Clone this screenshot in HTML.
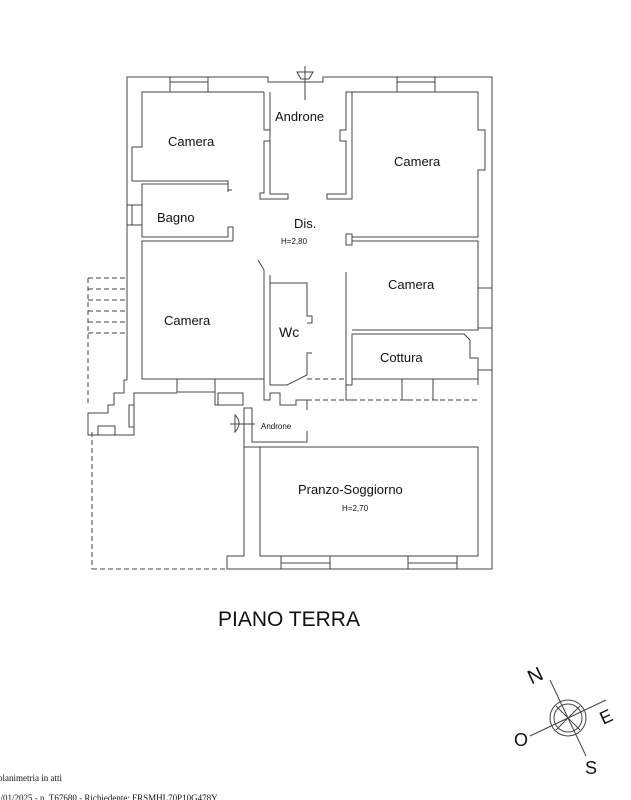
<!DOCTYPE html>
<html><head><meta charset="utf-8"><style>
html,body{margin:0;padding:0;background:#fff;width:631px;height:800px;overflow:hidden}
svg{display:block}
text{font-family:"Liberation Sans",sans-serif;fill:#111}
</style></head><body>
<svg width="631" height="800" viewBox="0 0 631 800" xmlns="http://www.w3.org/2000/svg">
<g fill="none" stroke="#444" stroke-width="1">
<polyline points="127,380 127,77 268,77 268,82 323,82 323,77 492,77 492,569 227,569 227,556 244,556 244,447 260,447"/>
<rect x="170" y="77" width="38" height="15"/><line x1="170" y1="82" x2="208" y2="82"/>
<rect x="397" y="77" width="38" height="15"/><line x1="397" y1="82" x2="435" y2="82"/>
<polyline points="264,92 142,92 142,147 132,147 132,181 228,181 228,190 232,190"/>
<polyline points="264,92 264,130 270,130 270,141 264,141 264,193 260,193 260,199 288,199 288,194 270,194 270,92"/>
<polyline points="352,92 346,92 346,130 340,130 340,141 346,141 346,194 327,194 327,199 352,199 352,92"/>
<polyline points="352,92 478,92 478,130 485,130 485,170 478,170 478,237 352,237"/>
<rect x="346" y="234" width="6" height="11"/>
<polyline points="228,192 228,184 142,184 142,237 228,237 228,227 233,227 233,241"/>
<line x1="127" y1="205" x2="142" y2="205"/><line x1="127" y1="225" x2="142" y2="225"/><line x1="132" y1="205" x2="132" y2="225"/>
<polyline points="233,241 142,241 142,379 264,379 264,270 258,260"/>
<rect x="177" y="379" width="38" height="13"/>
<polyline points="270,275 270,385 287,385 307,375 307,353 312,353"/>
<polyline points="270,283 307,283 307,316 312,316 312,323 307,323"/>
<polyline points="346,272 346,385 352,385 352,334 464,334 470,340 470,358 478,358 478,385"/>
<polyline points="352,241 478,241 478,330 352,330"/>
<line x1="478" y1="288" x2="492" y2="288"/><line x1="478" y1="328" x2="492" y2="328"/>
<polyline points="352,379 478,379"/>
<line x1="478" y1="370" x2="492" y2="370"/>
<g stroke-dasharray="5,3">
<line x1="307" y1="379" x2="346" y2="379"/><line x1="307" y1="400" x2="346" y2="400"/>
<line x1="352" y1="400" x2="478" y2="400"/>
<line x1="92" y1="432" x2="92" y2="569"/><line x1="92" y1="569" x2="227" y2="569"/>
<line x1="88" y1="278" x2="88" y2="405"/>
<line x1="88" y1="278" x2="127" y2="278"/><line x1="88" y1="289" x2="127" y2="289"/>
<line x1="88" y1="300" x2="127" y2="300"/><line x1="88" y1="311" x2="127" y2="311"/>
<line x1="88" y1="322" x2="127" y2="322"/><line x1="88" y1="333" x2="127" y2="333"/>
</g>
<polyline points="127,380 124,380 124,393 114,393 114,405 108,405 108,413 88,413 88,435 134,435 134,393 177,393"/>
<rect x="98" y="426" width="17" height="9"/>
<rect x="129" y="405" width="5" height="22"/>
<polyline points="215,379 215,405 243,405 243,395"/>
<rect x="218" y="393" width="25" height="12"/>
<polyline points="264,379 264,400 270,400 270,393 280,393 280,405 296,405 296,400 307,400 307,410"/>
<polyline points="346,379 346,400 352,400"/>
<polyline points="402,379 402,400 408,400"/>
<polyline points="433,379 433,400 438,400"/>
<polyline points="244,447 244,408 252,408 252,442 307,442 307,431"/>
<polyline points="260,447 307,447"/>
<path d="M235,415 L235,432 Q243,423 235,415 Z"/><line x1="230" y1="424" x2="255" y2="424"/>
<rect x="260" y="447" width="218" height="109"/>
<rect x="281" y="556" width="49" height="13"/><line x1="281" y1="563" x2="330" y2="563"/>
<rect x="408" y="556" width="49" height="13"/><line x1="408" y1="563" x2="457" y2="563"/>
<path d="M297,72 L313,72 L309,79 L301,79 Z"/><line x1="305" y1="66" x2="305" y2="100"/>
</g>
<text x="168" y="146" font-size="13">Camera</text>
<text x="275" y="121" font-size="13">Androne</text>
<text x="394" y="166" font-size="13">Camera</text>
<text x="157" y="222" font-size="13">Bagno</text>
<text x="294" y="228" font-size="13">Dis.</text>
<text x="281" y="244" font-size="8">H=2,80</text>
<text x="388" y="289" font-size="13">Camera</text>
<text x="164" y="325" font-size="13">Camera</text>
<text x="279" y="337" font-size="14">Wc</text>
<text x="380" y="362" font-size="13">Cottura</text>
<text x="261" y="429" font-size="8">Androne</text>
<text x="298" y="494" font-size="13">Pranzo-Soggiorno</text>
<text x="342" y="511" font-size="8">H=2,70</text>
<text x="218" y="626" font-size="21">PIANO TERRA</text>
<text x="-2" y="781" font-size="9" font-family="Liberation Serif" style="font-family:'Liberation Serif',serif">planimetria in atti</text>
<text x="-4" y="801" font-size="9" style="font-family:'Liberation Serif',serif">9/01/2025 - n. T67680 - Richiedente: FRSMHL70P10G478Y</text>
<g transform="translate(568,718)" fill="none" stroke="#444">
<circle r="18"/><circle r="14"/>
<line x1="-18" y1="-38" x2="18" y2="38"/><line x1="-38" y1="18" x2="38" y2="-18"/>
<line x1="-12" y1="-12" x2="12" y2="12"/><line x1="-12" y1="12" x2="12" y2="-12"/>
</g>
<text x="528" y="681" font-size="20" transform="rotate(-25 538 675)">N</text>
<text x="600" y="722" font-size="18" transform="rotate(-25 608 716)">E</text>
<text x="514" y="746" font-size="18">O</text>
<text x="585" y="774" font-size="18">S</text>
</svg>
</body></html>
